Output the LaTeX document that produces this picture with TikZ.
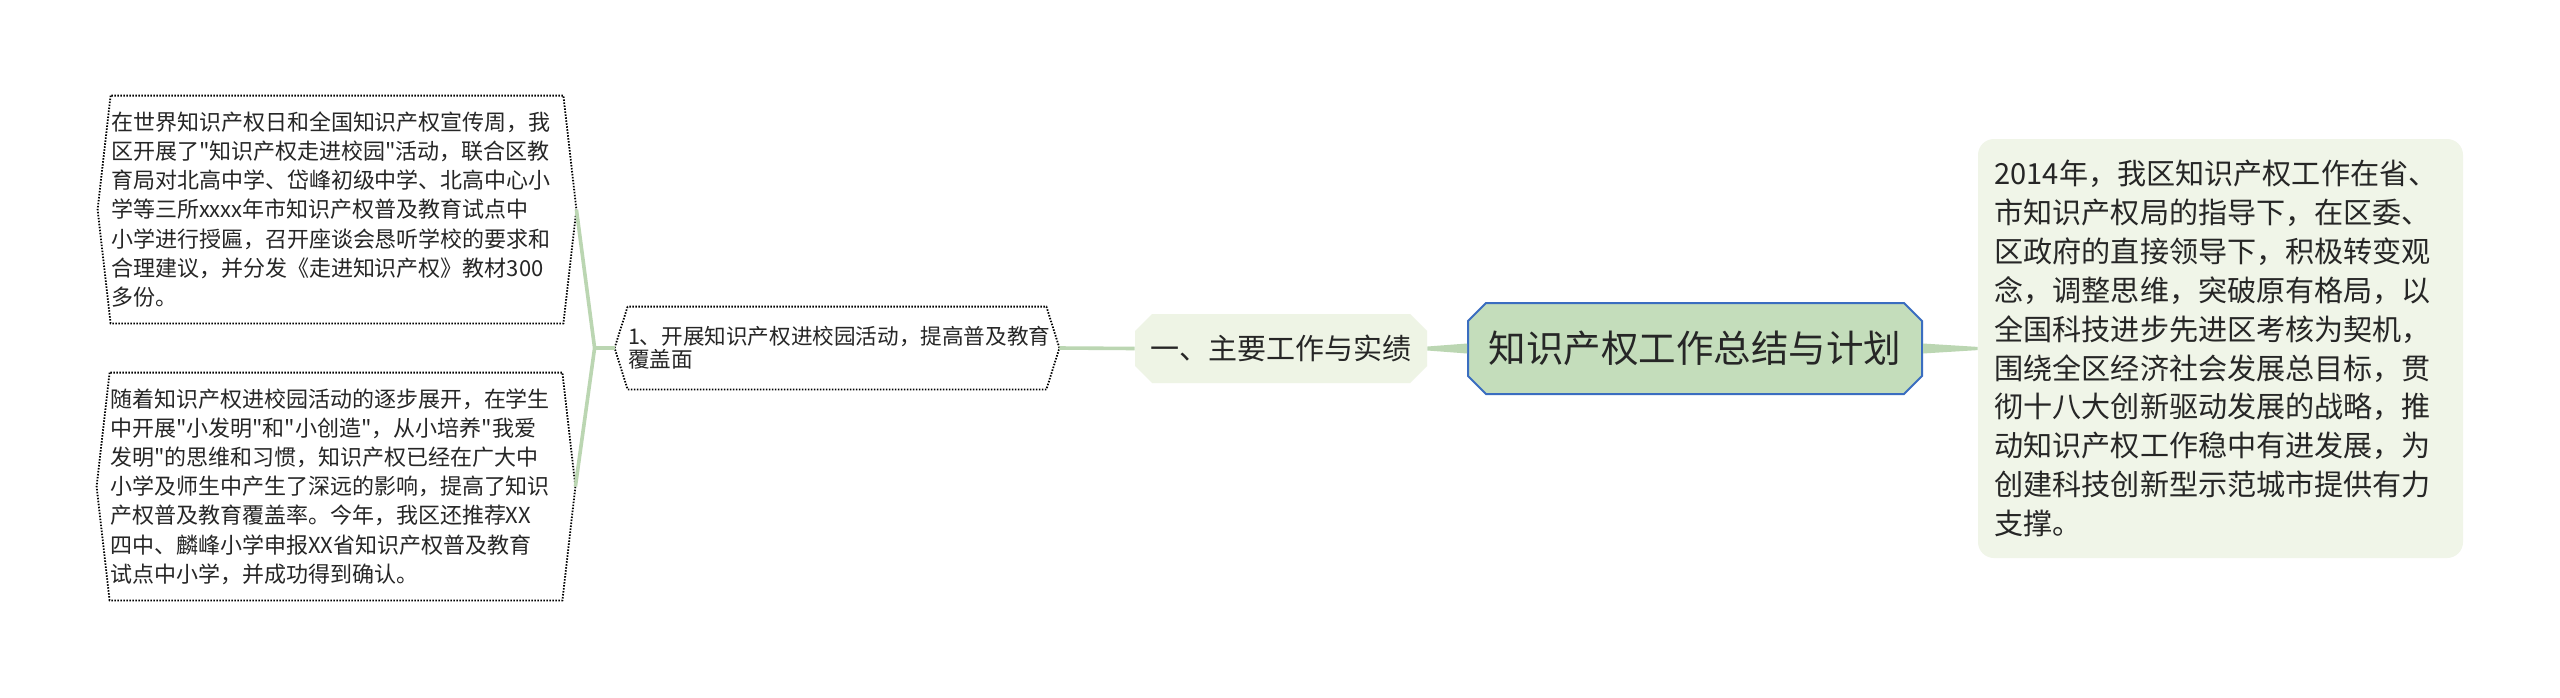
\documentclass[tikz,border=0pt]{standalone}
\usepackage{fontspec}
\setmainfont{Noto Sans CJK SC}[Ligatures=TeXOff]
\usetikzlibrary{shapes.misc}
\definecolor{linkgreen}{RGB}{187,214,178}
\definecolor{rootfill}{RGB}{196,221,187}
\definecolor{rootline}{RGB}{58,109,192}
\definecolor{mainfill}{RGB}{238,244,229}
\definecolor{notefill}{RGB}{240,245,232}
\tikzset{leaf/.style={inner sep=0pt,align=left,text width=226pt,minimum height=113.5pt,
  text=black!85,font=\fontsize{11pt}{14.6pt}\selectfont}}
\tikzset{dotline/.style={line width=0.9pt,dash pattern=on 0.75pt off 0.75pt}}
\tikzset{link/.style={draw=linkgreen,line width=1.8pt}}

\begin{document}
\begin{tikzpicture}[x=0.5pt,y=-0.5pt]
\useasboundingbox[fill=white] (0,0) rectangle (2560,697);
\node[draw=rootline,line width=1pt,fill=rootfill,chamfered rectangle,
  chamfered rectangle xsep=4pt,chamfered rectangle ysep=5pt,inner sep=0pt,
  minimum width=227pt,minimum height=45.5pt,text=black!85,
  font=\fontsize{18.75pt}{20pt}\selectfont] (root) at (1695,348.5) {知识产权工作总结与计划};
\node[fill=mainfill,chamfered rectangle,chamfered rectangle xsep=4pt,
  chamfered rectangle ysep=4.5pt,inner sep=0pt,minimum width=146pt,
  minimum height=34.5pt,text=black!85,font=\fontsize{14.5pt}{16pt}\selectfont]
  (main) at (1281,348.5) {一、主要工作与实绩};
\node[fill=notefill,rounded corners=8pt,inner sep=0pt,minimum width=242.5pt,
  minimum height=209.5pt,text width=226pt,align=left,text=black!85,
  font=\fontsize{14.55pt}{19.45pt}\selectfont] (note) at (2220.5,348.5)
  {2014年，我区知识产权工作在省、\\市知识产权局的指导下，在区委、\\
   区政府的直接领导下，积极转变观\\念，调整思维，突破原有格局，以\\
   全国科技进步先进区考核为契机，\\围绕全区经济社会发展总目标，贯\\
   彻十八大创新驱动发展的战略，推\\动知识产权工作稳中有进发展，为\\
   创建科技创新型示范城市提供有力\\支撑。};
\node[leaf,text width=209pt,minimum height=41pt,font=\fontsize{10.8pt}{11.5pt}\selectfont]
  (sub) at (837,348) {1、开展知识产权进校园活动，提高普及教育\\覆盖面};
\node[leaf] (leafA) at (337,209.5)
  {在世界知识产权日和全国知识产权宣传周，我\\区开展了"知识产权走进校园"活动，联合区教\\
   育局对北高中学、岱峰初级中学、北高中心小\\学等三所xxxx年市知识产权普及教育试点中\\
   小学进行授匾，召开座谈会恳听学校的要求和\\合理建议，并分发《走进知识产权》教材300\\多份。};
\node[leaf] (leafB) at (336,486.5)
  {随着知识产权进校园活动的逐步展开，在学生\\中开展"小发明"和"小创造"，从小培养"我爱\\
   发明"的思维和习惯，知识产权已经在广大中\\小学及师生中产生了深远的影响，提高了知识\\
   产权普及教育覆盖率。今年，我区还推荐XX\\四中、麟峰小学申报XX省知识产权普及教育\\试点中小学，并成功得到确认。};

% hexagon outlines
\foreach \n in {leafA,leafB,sub}
  \draw[dotline] (\n.north west) -- ([xshift=-6.5pt]\n.west) -- (\n.south west)
    -- (\n.south east) -- ([xshift=6.5pt]\n.east) -- (\n.north east) -- cycle;

% connectors
\fill[linkgreen] ([yshift=2.5pt]root.west) -- ([yshift=1pt]main.east)
  -- ([yshift=-1pt]main.east) -- ([yshift=-2.5pt]root.west) -- cycle;
\fill[linkgreen] ([yshift=2.5pt]root.east) -- ([yshift=0.8pt]note.west)
  -- ([yshift=-0.8pt]note.west) -- ([yshift=-2.5pt]root.east) -- cycle;
\draw[link] (main.west) -- ([xshift=6.5pt]sub.east);
\draw[link] ([xshift=-6.5pt]sub.west) -- ++(-10pt,0) coordinate (fork);
\draw[link] (fork) -- ([xshift=6.5pt]leafA.east);
\draw[link] (fork) -- ([xshift=6.5pt]leafB.east);
\end{tikzpicture}
\end{document}
